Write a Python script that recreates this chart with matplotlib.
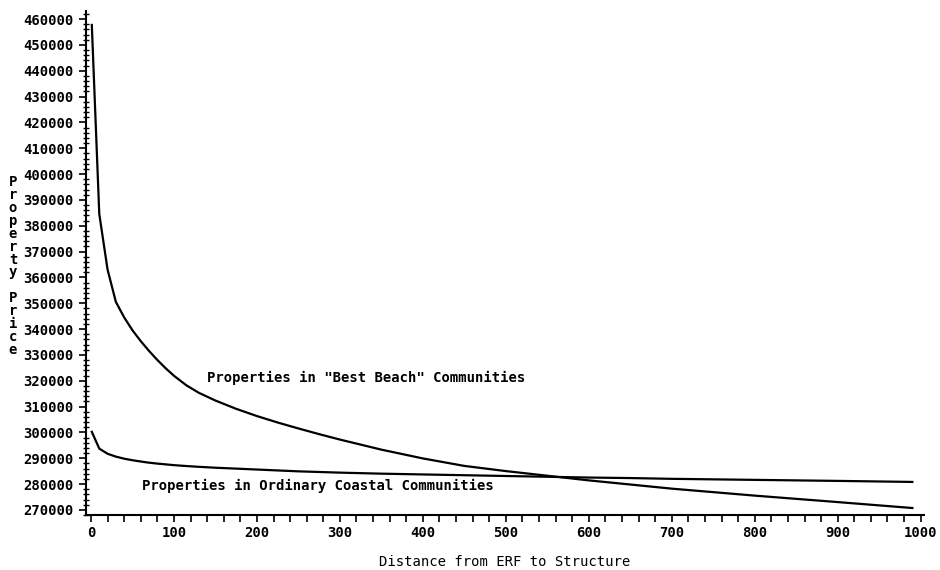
import matplotlib
matplotlib.use("Agg")
import matplotlib.pyplot as plt
from matplotlib.ticker import MultipleLocator

# distance from ERF to structure
distance = [1, 10, 20, 30, 40, 50, 60, 70, 80, 90, 100, 115, 130, 150, 175,
            200, 225, 250, 275, 300, 350, 400, 450, 500, 550, 600, 650, 700,
            800, 900, 990]

# prices
best_beach = [457700, 384500, 363000, 350500, 344500, 339500, 335300, 331500,
              328000, 324800, 321900, 318200, 315300, 312300, 309100, 306300,
              303800, 301500, 299300, 297200, 293300, 289900, 287000, 285000,
              283200, 281400, 279800, 278200, 275500, 273000, 270700]
ordinary = [300200, 293700, 291700, 290600, 289800, 289200, 288700, 288250,
            287900, 287600, 287300, 286950, 286650, 286300, 285950, 285600,
            285250, 284900, 284650, 284400, 284000, 283700, 283400, 283100,
            282800, 282500, 282300, 282000, 281600, 281200, 280800]

label_best = 'Properties in "Best Beach" Communities'
label_ord = 'Properties in Ordinary Coastal Communities'
xlabel = 'Distance from ERF to Structure'
ylabel = 'Property Price'

plt.rcParams['font.family'] = ['DejaVu Sans Mono']
plt.rcParams['font.weight'] = 'bold'

fig = plt.figure(figsize=(9.4, 5.7), dpi=100)
ax = fig.add_axes([86 / 940, 55 / 570, 838 / 940, 504 / 570])

ax.plot(distance, best_beach, color='black', lw=1.6)
ax.plot(distance, ordinary, color='black', lw=1.6)

ax.text(140, 321000, label_best, fontsize=10, va='center', ha='left')
ax.text(61, 279300, label_ord, fontsize=10, va='center', ha='left')

ax.set_xlim(-6, 1004)
ax.set_ylim(268000, 463100)
ax.xaxis.set_major_locator(MultipleLocator(100))
ax.xaxis.set_minor_locator(MultipleLocator(20))
ax.yaxis.set_major_locator(MultipleLocator(10000))
ax.yaxis.set_minor_locator(MultipleLocator(2000))

for s in ['top', 'right']:
    ax.spines[s].set_visible(False)
for s in ['left', 'bottom']:
    ax.spines[s].set_linewidth(1.5)

ax.tick_params(axis='x', which='both', direction='out', length=5, width=1.2,
               labelsize=10, pad=3)
ax.tick_params(axis='y', which='major', direction='out', length=5, width=1.2,
               labelsize=10, pad=4)
ax.tick_params(axis='y', which='minor', direction='inout', length=4, width=1)

ax.set_xlabel(xlabel, fontsize=10, labelpad=11)
fig.text(13 / 940, 1 - 266 / 570, "\n".join(ylabel), fontsize=10,
         ha='center', va='center', linespacing=0.9)

fig.savefig("out.png", dpi=100)
